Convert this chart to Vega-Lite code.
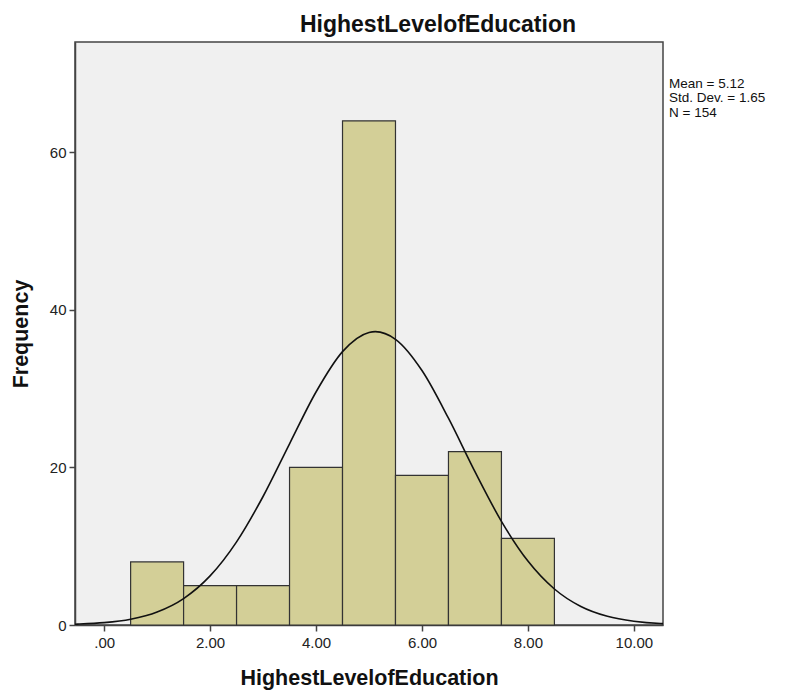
{
  "$schema": "https://vega.github.io/schema/vega-lite/v6.json",
  "width": 588,
  "height": 583,
  "autosize": "none",
  "padding": {"left": 75, "top": 42, "right": 126, "bottom": 68},
  "background": "white",
  "title": {
    "text": "HighestLevelofEducation",
    "font": "Liberation Sans",
    "fontSize": 23,
    "fontWeight": "bold",
    "color": "#111",
    "anchor": "middle",
    "dx": 69,
    "offset": 5
  },
  "config": {
    "view": {"fill": "#f0f0f0", "stroke": "#444", "strokeWidth": 1.5},
    "axis": {
      "labelFont": "Liberation Sans",
      "labelFontSize": 15,
      "labelColor": "#222",
      "titleFont": "Liberation Sans",
      "titleFontSize": 21.5,
      "titleFontWeight": "bold",
      "titleColor": "#111",
      "domainColor": "#444",
      "domainWidth": 1.5,
      "tickColor": "#444",
      "tickWidth": 1.5,
      "tickSize": 6,
      "grid": false
    }
  },
  "datasets": {
    "bins": [
      {"start": 0.5, "end": 1.5, "count": 8},
      {"start": 1.5, "end": 2.5, "count": 5},
      {"start": 2.5, "end": 3.5, "count": 5},
      {"start": 3.5, "end": 4.5, "count": 20},
      {"start": 4.5, "end": 5.5, "count": 64},
      {"start": 5.5, "end": 6.5, "count": 19},
      {"start": 6.5, "end": 7.5, "count": 22},
      {"start": 7.5, "end": 8.5, "count": 11}
    ],
    "curve": [
      {"x": -0.55, "y": 0.1},
      {"x": -0.5, "y": 0.113},
      {"x": 0, "y": 0.302},
      {"x": 0.5, "y": 0.739},
      {"x": 1, "y": 1.649},
      {"x": 1.5, "y": 3.355},
      {"x": 2, "y": 6.231},
      {"x": 2.5, "y": 10.555},
      {"x": 3, "y": 16.311},
      {"x": 3.5, "y": 22.995},
      {"x": 4, "y": 29.574},
      {"x": 4.5, "y": 34.697},
      {"x": 5, "y": 37.137},
      {"x": 5.12, "y": 37.235},
      {"x": 5.5, "y": 36.261},
      {"x": 6, "y": 32.299},
      {"x": 6.5, "y": 26.246},
      {"x": 7, "y": 19.456},
      {"x": 7.5, "y": 13.157},
      {"x": 8, "y": 8.117},
      {"x": 8.5, "y": 4.568},
      {"x": 9, "y": 2.346},
      {"x": 9.5, "y": 1.098},
      {"x": 10, "y": 0.469},
      {"x": 10.5, "y": 0.183},
      {"x": 10.55, "y": 0.17}
    ]
  },
  "layer": [
    {
      "data": {"name": "bins"},
      "mark": {"type": "rect", "fill": "#d3cf97", "stroke": "#333", "strokeWidth": 1.2},
      "encoding": {
        "x": {
          "field": "start",
          "type": "quantitative",
          "scale": {"domain": [-0.55, 10.55], "nice": false, "zero": false},
          "axis": {
            "title": "HighestLevelofEducation",
            "values": [0, 2, 4, 6, 8, 10],
            "labelExpr": "datum.value == 0 ? '.00' : format(datum.value, '.2f')",
            "labelPadding": 4,
            "titlePadding": 17
          }
        },
        "x2": {"field": "end"},
        "y": {
          "field": "count",
          "type": "quantitative",
          "scale": {"domain": [0, 74], "nice": false},
          "axis": {
            "title": "Frequency",
            "values": [0, 20, 40, 60],
            "labelPadding": 3,
            "titlePadding": 17
          }
        },
        "y2": {"datum": 0}
      }
    },
    {
      "data": {"name": "curve"},
      "mark": {"type": "line", "color": "#111", "strokeWidth": 1.6, "interpolate": "monotone", "clip": true},
      "encoding": {
        "x": {"field": "x", "type": "quantitative"},
        "y": {"field": "y", "type": "quantitative"}
      }
    },
    {
      "data": {"values": [{}]},
      "mark": {
        "type": "text",
        "text": ["Mean = 5.12", "Std. Dev. = 1.65", "N = 154"],
        "font": "Liberation Sans",
        "fontSize": 13.5,
        "lineHeight": 14.5,
        "align": "left",
        "baseline": "top",
        "color": "#111",
        "dx": 6
      },
      "encoding": {
        "x": {"datum": 10.55, "type": "quantitative"},
        "y": {"datum": 69.6, "type": "quantitative"}
      }
    }
  ]
}
